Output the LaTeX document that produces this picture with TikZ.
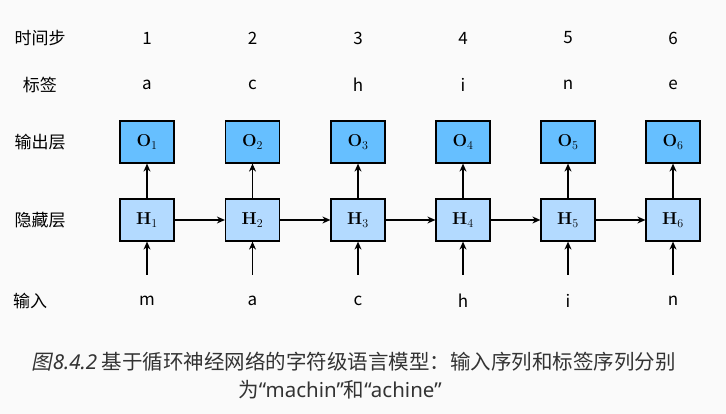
\documentclass[tikz,border=0pt]{standalone}
\usepackage[no-math]{fontspec}
\setmainfont{Noto Sans CJK SC}
\newfontfamily\cjk{Noto Sans CJK SC}
\newfontfamily\cjkit[FakeSlant=0.2]{Noto Sans CJK SC}
\newfontfamily\latn{Noto Sans}
\usetikzlibrary{arrows.meta}
\definecolor{bg}{HTML}{FAFAFA}
\definecolor{ofill}{HTML}{66BFFF}
\definecolor{hfill}{HTML}{B3DAFF}
\definecolor{captxt}{HTML}{333333}
\begin{document}
\begin{tikzpicture}[x=1pt,y=-1pt,
  lbl/.style={font=\fontsize{17}{20}\selectfont\cjk, text=black, inner sep=0pt},
  obox/.style={draw=black, line width=1.2pt, fill=ofill, minimum width=54pt, minimum height=42pt, inner sep=0pt, font=\fontsize{18}{21}\selectfont},
  hbox/.style={obox, fill=hfill},
  arr/.style={line width=1.3pt, -{Stealth[length=8pt,width=7pt]}},
  captext/.style={font=\fontsize{20.5}{24}\selectfont\cjk, text=captxt, inner sep=0pt}
]
\fill[bg] (0,0) rectangle (726,414);
\useasboundingbox (0,0) rectangle (726,414);
\node[lbl] (t0) at (40,38) {时间步};
\node[lbl] (l0) at (40,85) {标签};
\node[lbl] (o0) at (40,142) {输出层};
\node[lbl] (h0) at (40,220) {隐藏层};
\node[lbl] (i0) at (30,301) {输入};
\foreach \k/\x/\lab/\inp in {1/147/a/m,2/252.5/c/a,3/358/h/c,4/463/i/h,5/568/n/i,6/673/e/n}{
  \node[lbl] (t\k) at (\x,38) {\k};
  \node[lbl] (l\k) at (\x,85) {\lab};
  \node[obox] (O\k) at (\x,142) {$\mathbf{O}_{\k}$};
  \node[hbox] (H\k) at (\x,220) {$\mathbf{H}_{\k}$};
  \node[lbl] (i\k) at (\x,301) {\inp};
  \coordinate (s\k) at (\x,275);
  \draw[arr] (H\k) -- (O\k);
  \draw[arr] (s\k) -- (H\k);
}
\foreach \a/\b in {1/2,2/3,3/4,4/5,5/6}{
  \draw[arr] (H\a) -- (H\b);
}
\node[captext] (cap1) at (353.5,362) {{\cjkit 图}\kern1pt{\latn\itshape 8.4.2}\ 基于循环神经网络的字符级语言模型：输入序列和标签序列分别};
\node[captext] (cap2) at (340,390) {为{\latn “machin”}和{\latn “achine”}};
\end{tikzpicture}
\end{document}
